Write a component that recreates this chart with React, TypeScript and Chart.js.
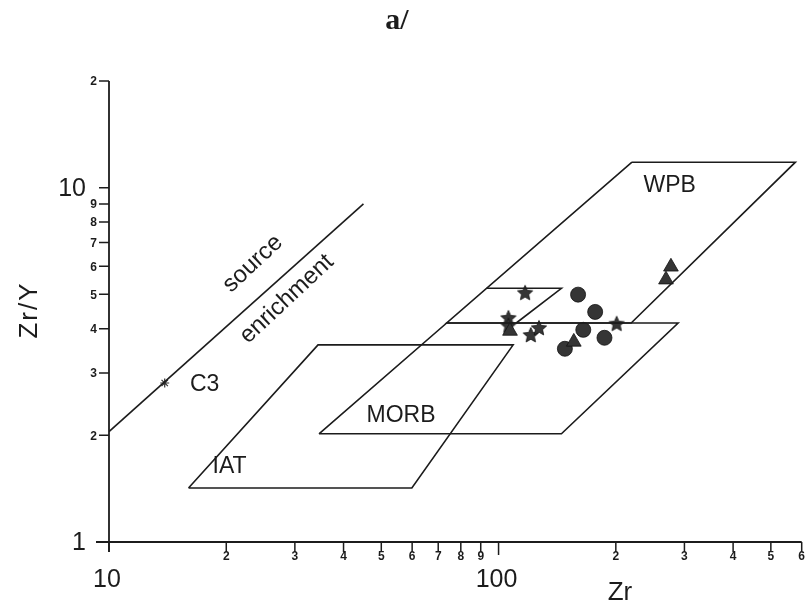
import React, { useEffect, useRef } from "react";
import { Chart, registerables } from "chart.js";

Chart.register(...registerables);

// ---- Data (Zr ppm vs Zr/Y, log-log) ----
const sourceEnrichmentLine = [
  { x: 10, y: 2.05 },
  { x: 45, y: 9.0 },
];
const iatField = [
  { x: 16.0, y: 1.42 },
  { x: 59.9, y: 1.42 },
  { x: 109, y: 3.6 },
  { x: 34.4, y: 3.6 },
  { x: 16.0, y: 1.42 },
];
const morbField = [
  { x: 34.6, y: 2.02 },
  { x: 145, y: 2.02 },
  { x: 289, y: 4.15 },
  { x: 73.6, y: 4.15 },
  { x: 34.6, y: 2.02 },
];
const wpbField = [
  { x: 220, y: 11.8 },
  { x: 578, y: 11.8 },
  { x: 219, y: 4.15 },
  { x: 73.6, y: 4.15 },
  { x: 220, y: 11.8 },
];
const overlapBox = [
  { x: 93.2, y: 5.2 },
  { x: 145, y: 5.2 },
  { x: 111, y: 4.15 },
];
const starSamples = [
  { x: 117, y: 5.05 },
  { x: 106, y: 4.29 },
  { x: 106, y: 4.08 },
  { x: 121, y: 3.84 },
  { x: 127, y: 4.02 },
  { x: 201, y: 4.13 },
];
const circleSamples = [
  { x: 160, y: 4.99 },
  { x: 177, y: 4.46 },
  { x: 165, y: 3.97 },
  { x: 187, y: 3.77 },
  { x: 148, y: 3.51 },
];
const triangleSamples = [
  { x: 107, y: 3.94 },
  { x: 156, y: 3.67 },
  { x: 277, y: 5.98 },
  { x: 269, y: 5.5 },
];
const c3Sample = [{ x: 13.9, y: 2.81 }];

const xMin = 10;
const xMax = 600;
const yMin = 1;
const yMax = 20;
const xMajorTicks = [10, 100];
const xMajorLabels = ["10", "100"];
const xMinorTicks = [20, 30, 40, 50, 60, 70, 80, 90, 200, 300, 400, 500, 600];
const xMinorLabels = ["2", "3", "4", "5", "6", "7", "8", "9", "2", "3", "4", "5", "6"];
const yMajorTicks = [1, 10];
const yMajorLabels = ["1", "10"];
const yMinorTicks = [2, 3, 4, 5, 6, 7, 8, 9, 20];
const yMinorLabels = ["2", "3", "4", "5", "6", "7", "8", "9", "2"];

const fieldLabels = [
  { text: "WPB", x: 275, y: 10.1 },
  { text: "MORB", x: 56.2, y: 2.27 },
  { text: "IAT", x: 20.4, y: 1.63 },
  { text: "C3", x: 17.6, y: 2.78 },
];
const rotatedLabels = [
  { text: "source", x: 23.4, y: 6.1 },
  { text: "enrichment", x: 28.6, y: 4.85 },
];

const INK = "#1c1c1c";
const MARK = "#353535";
const SANS = "'Liberation Sans', Arial, sans-serif";

function makeStar(r: number): HTMLCanvasElement {
  const c = document.createElement("canvas");
  const s = Math.ceil(r * 2 + 2);
  c.width = s;
  c.height = s;
  const g = c.getContext("2d")!;
  g.translate(s / 2, s / 2 + 0.5);
  g.beginPath();
  for (let i = 0; i < 10; i++) {
    const rr = i % 2 === 0 ? r : r * 0.47;
    const a = -Math.PI / 2 + (i * Math.PI) / 5;
    const px = Math.cos(a) * rr;
    const py = Math.sin(a) * rr;
    if (i === 0) g.moveTo(px, py);
    else g.lineTo(px, py);
  }
  g.closePath();
  g.fillStyle = MARK;
  g.fill();
  g.strokeStyle = "#111";
  g.lineWidth = 0.8;
  g.stroke();
  return c;
}

const decorPlugin = {
  id: "decor",
  beforeDatasetsDraw(chart: any) {
    const { ctx } = chart;
    const xs = chart.scales.x;
    const ys = chart.scales.y;
    const left = xs.getPixelForValue(xMin);
    const right = xs.getPixelForValue(xMax);
    const bottom = ys.getPixelForValue(yMin);
    const top = ys.getPixelForValue(yMax);
    ctx.save();
    ctx.strokeStyle = INK;
    ctx.lineWidth = 1.8;
    ctx.beginPath();
    ctx.moveTo(left, top);
    ctx.lineTo(left, bottom + 10);
    ctx.moveTo(left - 13, bottom);
    ctx.lineTo(right, bottom);
    ctx.stroke();

    ctx.lineWidth = 1.5;
    ctx.beginPath();
    [...yMinorTicks, ...yMajorTicks].forEach((v) => {
      const py = ys.getPixelForValue(v);
      ctx.moveTo(left - 10, py);
      ctx.lineTo(left, py);
    });
    [...xMinorTicks, ...xMajorTicks].forEach((v) => {
      const px = xs.getPixelForValue(v);
      ctx.moveTo(px, bottom);
      ctx.lineTo(px, bottom + (v === 100 ? 13 : 10));
    });
    ctx.stroke();

    ctx.fillStyle = INK;
    ctx.font = `bold 12px ${SANS}`;
    ctx.textAlign = "right";
    ctx.textBaseline = "middle";
    yMinorTicks.forEach((v, i) => {
      ctx.fillText(yMinorLabels[i], left - 12, ys.getPixelForValue(v) + 1);
    });
    ctx.textAlign = "center";
    ctx.textBaseline = "top";
    xMinorTicks.forEach((v, i) => {
      ctx.fillText(xMinorLabels[i], xs.getPixelForValue(v), bottom + 9);
    });

    ctx.font = `25px ${SANS}`;
    ctx.textAlign = "right";
    ctx.textBaseline = "middle";
    yMajorTicks.forEach((v, i) => {
      ctx.fillText(yMajorLabels[i], left - 23, ys.getPixelForValue(v) + 1);
    });
    ctx.textAlign = "center";
    ctx.textBaseline = "middle";
    xMajorTicks.forEach((v, i) => {
      ctx.fillText(xMajorLabels[i], xs.getPixelForValue(v) - 2, bottom + 38);
    });

    // axis titles
    ctx.font = `26px ${SANS}`;
    ctx.fillText("Zr", 620, 593);
    ctx.save();
    ctx.translate(30, 310);
    ctx.rotate(-Math.PI / 2);
    (ctx as any).letterSpacing = "2px";
    ctx.fillText("Zr/Y", 0, 0);
    ctx.restore();

    // title
    ctx.font = `bold 30px 'Liberation Serif', 'DejaVu Serif', serif`;
    ctx.fillText("a/", 397, 21);

    // field labels
    ctx.font = `23px ${SANS}`;
    fieldLabels.forEach((l) => {
      ctx.fillText(l.text, xs.getPixelForValue(l.x), ys.getPixelForValue(l.y));
    });
    ctx.font = `24px ${SANS}`;
    rotatedLabels.forEach((l) => {
      ctx.save();
      ctx.translate(xs.getPixelForValue(l.x), ys.getPixelForValue(l.y));
      ctx.rotate((-43 * Math.PI) / 180);
      ctx.fillText(l.text, 0, 0);
      ctx.restore();
    });
    ctx.restore();
  },
};

export default function App() {
  const ref = useRef<HTMLCanvasElement | null>(null);
  useEffect(() => {
    document.body.style.margin = "0";
    document.body.style.background = "#ffffff";
    if (!ref.current) return;
    const star = makeStar(8);
    const lineDs = (data: any[]) => ({
      data,
      showLine: true,
      fill: false,
      borderColor: INK,
      borderWidth: 1.6,
      pointRadius: 0,
      tension: 0,
    });
    const chart = new Chart(ref.current, {
      type: "scatter",
      data: {
        datasets: [
          lineDs(sourceEnrichmentLine),
          lineDs(iatField),
          lineDs(morbField),
          lineDs(wpbField),
          lineDs(overlapBox),
          {
            data: c3Sample,
            pointStyle: "star",
            pointRadius: 4.5,
            borderColor: "#333",
            borderWidth: 1.2,
            backgroundColor: "#333",
          },
          {
            data: triangleSamples,
            pointStyle: "triangle",
            pointRadius: 8.5,
            backgroundColor: MARK,
            borderColor: "#111",
            borderWidth: 0.8,
          },
          {
            data: circleSamples,
            pointStyle: "circle",
            pointRadius: 7.5,
            backgroundColor: MARK,
            borderColor: "#111",
            borderWidth: 0.8,
          },
          {
            data: starSamples,
            pointStyle: star as any,
            pointRadius: 8,
          },
        ] as any,
      },
      options: {
        animation: false,
        responsive: false,
        devicePixelRatio: 1,
        layout: { padding: { left: 109, right: 7, top: 81, bottom: 68 } },
        scales: {
          x: { type: "logarithmic", min: xMin, max: xMax, display: false },
          y: { type: "logarithmic", min: yMin, max: yMax, display: false },
        },
        plugins: { legend: { display: false }, tooltip: { enabled: false } },
      },
      plugins: [decorPlugin],
    });
    return () => chart.destroy();
  }, []);
  return <canvas ref={ref} width={811} height={610} style={{ display: "block" }} />;
}
